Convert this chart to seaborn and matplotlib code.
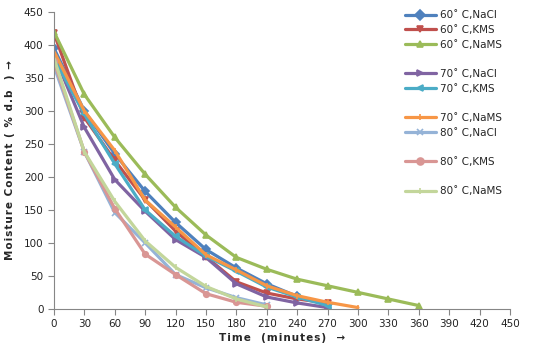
import numpy as np
import pandas as pd
import matplotlib
matplotlib.use('Agg')
import matplotlib.pyplot as plt
import seaborn as sns
from matplotlib.lines import Line2D

# drying curves (time in minutes, moisture % d.b)
t_60 = [0, 30, 60, 90, 120, 150, 180, 210, 240, 270]
t_60_nams = [0, 30, 60, 90, 120, 150, 180, 210, 240, 270, 300, 330, 360]
t_70_nams = [0, 30, 60, 90, 120, 150, 180, 210, 240, 270, 300]
t_80 = [0, 30, 60, 90, 120, 150, 180, 210]

mc_60_nacl = [395, 300, 235, 178, 131, 90, 62, 38, 19, 7]
mc_60_kms = [418, 290, 225, 165, 118, 79, 41, 24, 15, 9]
mc_60_nams = [420, 325, 260, 204, 154, 112, 78, 60, 45, 35, 25, 15, 5]
mc_70_nacl = [385, 275, 196, 148, 105, 78, 38, 18, 9, 2]
mc_70_kms = [380, 295, 220, 150, 110, 80, 57, 33, 18, 5]
mc_70_nams = [390, 300, 240, 165, 124, 82, 59, 35, 20, 10, 2]
mc_80_nacl = [368, 238, 146, 100, 52, 32, 17, 6]
mc_80_kms = [375, 238, 152, 83, 52, 23, 10, 4]
mc_80_nams = [380, 238, 163, 103, 63, 34, 15, 3]

labels = ['60˚ C,NaCl', '60˚ C,KMS', '60˚ C,NaMS',
          '70˚ C,NaCl', '70˚ C,KMS', '70˚ C,NaMS',
          '80˚ C,NaCl', '80˚ C,KMS', '80˚ C,NaMS']
times = [t_60, t_60, t_60_nams, t_60, t_60, t_70_nams, t_80, t_80, t_80]
values = [mc_60_nacl, mc_60_kms, mc_60_nams, mc_70_nacl, mc_70_kms,
          mc_70_nams, mc_80_nacl, mc_80_kms, mc_80_nams]
colors = ['#4F81BD', '#C0504D', '#9BBB59', '#8064A2', '#4BACC6',
          '#F79646', '#95B3D7', '#D99694', '#C3D69B']
markers = ['D', 'v', '^', '>', '<', '|', 'x', 'o', '|']

sns.set_style('ticks')
plt.rcParams['font.family'] = ['DejaVu Sans']

fig = plt.figure(figsize=(5.34, 3.51), dpi=100)
ax = fig.add_axes([0.101, 0.12, 0.854, 0.846])

handles = []
for lab, t, v, c, m in zip(labels, times, values, colors, markers):
    df = pd.DataFrame({'time': t, 'mc': v})
    sns.lineplot(data=df, x='time', y='mc', ax=ax, color=c, linewidth=2.3,
                 marker=m, markersize=4, markeredgecolor=c, markeredgewidth=1.2)
    handles.append(Line2D([], [], color=c, linewidth=2.3, marker=m,
                          markersize=5, markeredgecolor=c, markeredgewidth=1.2))

ax.set_xlim(0, 450)
ax.set_ylim(0, 450)
ax.set_xticks(np.arange(0, 451, 30))
ax.set_yticks(np.arange(0, 451, 50))
ax.tick_params(labelsize=7.5, length=4, color='#868686', colors='#222222')
for s in ['left', 'bottom']:
    ax.spines[s].set_color('#868686')
for s in ['top', 'right']:
    ax.spines[s].set_visible(False)


def spaced(s):
    # slight letter spacing like the original axis titles
    return '\u200a'.join(s)


ax.set_xlabel(spaced('Time  (minutes)  →'), fontsize=7.5, fontweight='bold', labelpad=3)
ax.set_ylabel(spaced('Moisture Content ( % d.b  ) →'), fontsize=7.5,
              fontweight='bold', labelpad=6)

# legend with blank rows to mimic the grouped spacing
blank = Line2D([], [], color='none')
leg_handles = handles[:3] + [blank] + handles[3:5] + [blank] + handles[5:7] + [blank] + [handles[7], blank, handles[8]]
leg_labels = labels[:3] + [''] + labels[3:5] + [''] + labels[5:7] + [''] + [labels[7], '', labels[8]]
ax.legend(leg_handles, leg_labels, loc='upper left', bbox_to_anchor=(0.76, 1.02),
          frameon=False, fontsize=7.5, handlelength=3.0, labelspacing=0.45,
          handletextpad=0.4, borderaxespad=0)

fig.savefig('out.png', dpi=100)
